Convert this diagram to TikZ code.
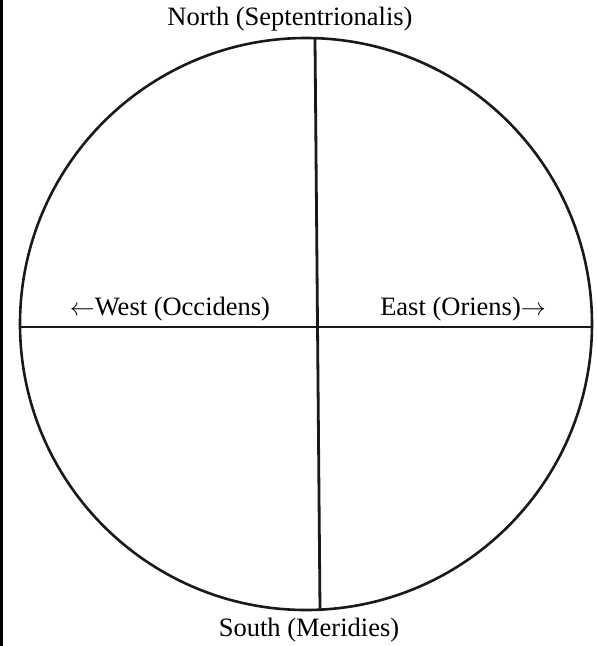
\documentclass[tikz,border=0pt]{standalone}
\usepackage{fontspec}
\setmainfont{Liberation Serif}
\begin{document}
\begin{tikzpicture}[x=1pt,y=-1pt,
  lbl/.style={font=\fontsize{26.5}{30}\selectfont, inner sep=0pt},
  ring/.style={draw=black!90, line width=2.6pt},
  axis/.style={draw=black!90, line width=2.8pt}]
\useasboundingbox (0,0) rectangle (597,646);
\fill[white] (0,0) rectangle (597,646);
\draw[line width=2.6pt] (1.3,0) -- (1.3,646);
\node[ring, circle, minimum size=572pt, inner sep=0pt] (c) at (306,324) {};
\coordinate (n) at (315,39);
\coordinate (s) at (320,609);
\coordinate (w) at (20,327);
\coordinate (e) at (592,327);
\draw[axis] (n) -- (s);
\draw[axis] (w) -- (e);
\node[lbl] (north) at (290,19) {North (Septentrionalis)};
\node[lbl] (west) at (170,309) {$\leftarrow$West (Occidens)};
\node[lbl] (east) at (463,309) {East (Oriens)$\rightarrow$};
\node[lbl] (south) at (309,630) {South (Meridies)};
\end{tikzpicture}
\end{document}
